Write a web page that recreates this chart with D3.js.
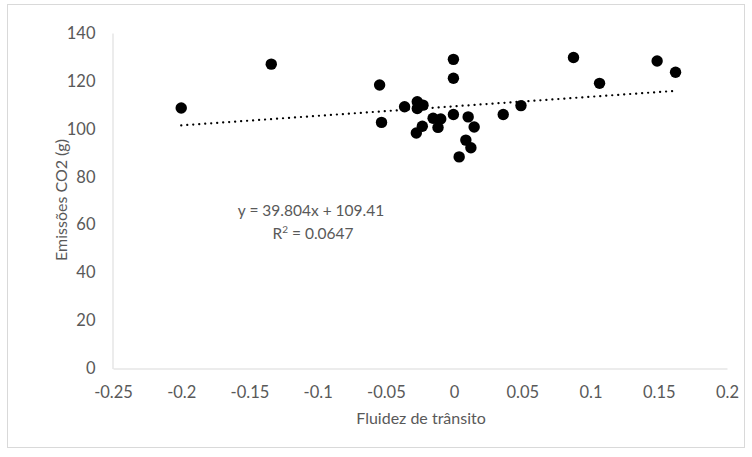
<!DOCTYPE html>
<html>
<head>
<meta charset="utf-8">
<script src="https://cdn.jsdelivr.net/npm/d3@7"></script>
<style>
  body { margin: 0; background: #fff; }
  text { font-family: Lato, "Open Sans", sans-serif; fill: #595959; }
</style>
</head>
<body>
<div id="chart"></div>
<script>
// fluidez de trânsito vs emissões de CO2
var fluidez = [-0.200, -0.134, -0.0546, -0.0532, -0.0363, -0.027, -0.0228, -0.027, -0.0233, -0.0277,
               -0.0154, -0.0098, -0.0118, -0.0005, -0.0005, -0.0005, 0.0103, 0.0147, 0.0086, 0.0123,
               0.0037, 0.036, 0.049, 0.0875, 0.1066, 0.1488, 0.1623];
var emissoes = [108.7, 127.0, 118.3, 102.7, 109.2, 111.3, 109.9, 108.5, 101.1, 98.3,
                104.4, 104.1, 100.6, 129.0, 121.1, 106.0, 105.0, 100.8, 95.3, 92.1,
                88.3, 106.0, 109.7, 129.8, 119.0, 128.3, 123.6];
var xTicks = [-0.25, -0.2, -0.15, -0.1, -0.05, 0, 0.05, 0.1, 0.15, 0.2];
var yTicks = [0, 20, 40, 60, 80, 100, 120, 140];
var slope = 39.804, intercept = 109.41, r2 = 0.0647;

var width = 752, height = 457;
var svg = d3.select("#chart").append("svg")
  .attr("width", width).attr("height", height);

// moldura do gráfico
svg.append("rect").attr("x", 7.5).attr("y", 4.5).attr("width", 737).attr("height", 443)
  .style("fill", "none").style("stroke", "#d9d9d9");

var x = d3.scaleLinear().domain([-0.25, 0.2]).range([113, 727]);
var y = d3.scaleLinear().domain([0, 140]).range([368.5, 33]);

// eixos
var xAxis = svg.append("g").attr("transform", "translate(0,368.5)")
  .call(d3.axisBottom(x).tickValues(xTicks).tickSize(0).tickPadding(18)
    .tickFormat(function(d) { return String(+d.toFixed(2)); }));
xAxis.select(".domain").style("stroke", "#d9d9d9");

var yAxis = svg.append("g").attr("transform", "translate(112.5,0)")
  .call(d3.axisLeft(y).tickValues(yTicks).tickSize(0).tickPadding(17));
yAxis.select(".domain").style("stroke", "#d9d9d9");

svg.selectAll(".tick text").attr("font-family", null).attr("fill", null)
  .style("font-size", "16.5px");

// títulos dos eixos
svg.append("text").attr("x", 421).attr("y", 424).style("text-anchor", "middle")
  .style("font-size", "16px").text("Fluidez de trânsito");
svg.append("text").attr("transform", "translate(67,200) rotate(-90)")
  .style("text-anchor", "middle").style("font-size", "16px").text("Emissões CO2 (g)");

// linha de tendência
var xMin = d3.min(fluidez), xMax = d3.max(fluidez);
svg.append("line")
  .attr("x1", x(xMin)).attr("y1", y(slope * xMin + intercept))
  .attr("x2", x(xMax)).attr("y2", y(slope * xMax + intercept))
  .style("stroke", "#000").style("stroke-width", 2.2)
  .style("stroke-dasharray", "0.1 5.9").style("stroke-linecap", "round");

// pontos
svg.selectAll("circle.pt").data(fluidez).enter().append("circle")
  .attr("class", "pt")
  .attr("cx", function(d) { return x(d); })
  .attr("cy", function(d, i) { return y(emissoes[i]); })
  .attr("r", 5.7)
  .style("fill", "#000");

// equação
svg.append("text").attr("x", 311).attr("y", 216).style("text-anchor", "middle")
  .style("font-size", "15.5px").text("y = " + slope + "x + " + intercept);
var r2Text = svg.append("text").attr("x", 313).attr("y", 239).style("text-anchor", "middle")
  .style("font-size", "15.5px");
r2Text.append("tspan").text("R");
r2Text.append("tspan").attr("dy", -6).style("font-size", "10px").text("2");
r2Text.append("tspan").attr("dy", 6).text(" = " + r2);
</script>
</body>
</html>
